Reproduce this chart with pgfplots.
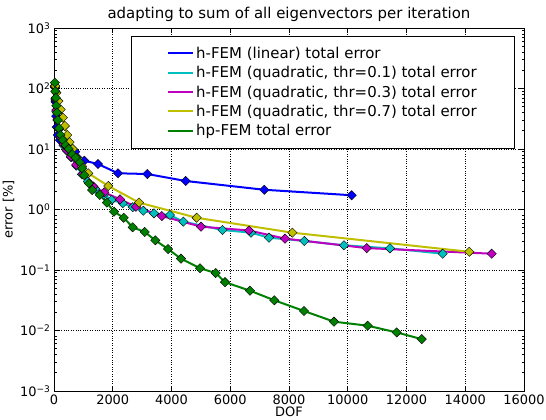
\documentclass[border=0pt]{standalone}
\usepackage{fontspec}
\setmainfont{DejaVu Sans}
\usepackage{pgfplots}
\pgfplotsset{compat=1.18}
\definecolor{mblue}{rgb}{0,0,1}
\definecolor{mcyan}{rgb}{0,0.75,0.75}
\definecolor{mmag}{rgb}{0.75,0,0.75}
\definecolor{myel}{rgb}{0.75,0.75,0}
\definecolor{mgreen}{rgb}{0,0.5,0}
\pgfplotsset{dm/.style={color=#1, line width=2bp, mark=square*, mark size=3.3bp,
   mark options={rotate=45, draw=black, line width=0.4bp, solid, fill=#1}}}
\begin{document}
\begin{tikzpicture}
\begin{axis}[
 at={(54bp,29bp)}, anchor=south west,
 scale only axis, width=470bp, height=363bp,
 xmin=0, xmax=16000, ymode=log, ymin=1e-3, ymax=1e3,
 xtick={0,2000,...,16000},
 xticklabels={0,2000,4000,6000,8000,10000,12000,14000,16000},
 scaled x ticks=false,
 ytick={1e-3,1e-2,1e-1,1,10,100,1000},
 yticklabels={10\textsuperscript{−3},10\textsuperscript{−2},10\textsuperscript{−1},10\textsuperscript{0},10\textsuperscript{1},10\textsuperscript{2},10\textsuperscript{3}},
 minor ytick={0.002,0.003,...,0.009,0.02,0.03,...,0.09,0.2,0.3,...,0.9,2,3,...,9,20,30,...,90,200,300,...,900},
 xtick pos=both, ytick pos=both, tick align=inside,
 major tick length=5bp, minor tick length=2.5bp,
 tick style={black, line width=0.6bp},
 axis line style={line width=0.8bp},
 grid=major, major grid style={black, dotted, line width=0.6bp},
 tick label style={font=\fontsize{13}{15}\selectfont},
 label style={font=\fontsize{13}{15}\selectfont},
 xlabel={DOF}, ylabel={error [\%]},
 xlabel style={yshift=4bp},
 ylabel style={yshift=-1bp},
 title={adapting to sum of all eigenvectors per iteration},
 title style={font=\fontsize{15}{17}\selectfont, yshift=-3bp},
 legend image code/.code={\draw[#1,mark=none] (0bp,0bp) -- (25bp,0bp);},
 legend style={at={(0.981,0.979)}, anchor=north east, draw=black, line width=0.8bp,
   font=\fontsize{15}{17}\selectfont, inner xsep=36bp, inner ysep=9bp,
   row sep=2.5bp, cells={anchor=west}},
 legend cell align=left,
]
\addplot[dm=mblue] coordinates {
(30,110) (50,60) (75,35) (95,23) (130,17) (200,14) (330,11.5) (500,10) (720,9.0)
(1031,6.4) (1498,5.65) (2179,3.97) (3176,3.86) (4483,2.96) (7159,2.12) (10134,1.72)};
\addlegendentry{h-FEM (linear) total error}
\addplot[dm=mcyan] coordinates {
(30,105) (50,65) (80,42) (120,30) (170,21) (240,15) (330,11.5) (440,9.3) (580,7.3)
(760,5.3) (950,3.8) (1150,2.9) (1400,2.2) (1700,1.75) (1964,1.44) (2339,1.27)
(2679,1.09) (3040,0.955) (3404,0.865) (3949,0.81) (4402,0.63) (5736,0.458)
(6706,0.414) (7319,0.342) (8521,0.302) (9872,0.256) (11438,0.228) (13232,0.186)};
\addlegendentry{h-FEM (quadratic, thr=0.1) total error}
\addplot[dm=mmag] coordinates {
(30,108) (50,68) (80,44) (120,31) (170,22) (240,15.5) (330,12) (440,9.6) (580,7.5)
(760,5.5) (980,3.9) (1340,2.4) (1712,1.92) (2247,1.47) (2790,1.11) (3670,0.78)
(5004,0.52) (6638,0.45) (7864,0.33) (10645,0.23) (14900,0.186)};
\addlegendentry{h-FEM (quadratic, thr=0.3) total error}
\addplot[dm=myel] coordinates {
(40,110) (80,85) (150,62) (230,45) (300,33) (370,24) (450,17) (530,13) (640,10)
(800,7) (950,5.2) (1168,3.97) (1849,2.45) (2894,1.30) (4857,0.73) (8113,0.414) (14138,0.2)};
\addlegendentry{h-FEM (quadratic, thr=0.7) total error}
\addplot[dm=mgreen] coordinates {
(30,125) (45,90) (60,70) (80,52) (100,40) (130,30) (170,22) (220,17) (300,14)
(400,11.5) (500,10) (620,8.2) (740,7.2) (880,6.0) (960,4.8) (1030,3.7) (1190,2.7)
(1300,2.1) (1560,1.74) (1800,1.3) (2043,0.92) (2373,0.73) (2679,0.508) (3088,0.425)
(3449,0.31) (3881,0.222) (4323,0.154) (4970,0.107) (5505,0.089) (5821,0.063)
(6672,0.0455) (7500,0.0316) (8511,0.021) (9532,0.014) (10679,0.012) (11666,0.0093)
(12517,0.0072)};
\addlegendentry{hp-FEM total error}
\end{axis}
\pgfresetboundingbox
\path[use as bounding box] (0,0) rectangle (546bp,420bp);
\end{tikzpicture}
\end{document}
